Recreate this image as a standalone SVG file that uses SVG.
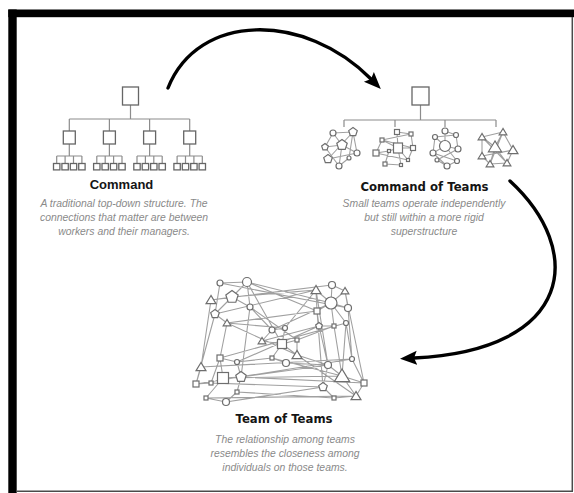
<svg xmlns="http://www.w3.org/2000/svg" xmlns:xlink="http://www.w3.org/1999/xlink" width="574" height="493" viewBox="0 0 574 493">
  <style>
    .box { fill: #fff; stroke: #666; stroke-width: 1.3; }
    .tree { fill: none; stroke: #8c8c8c; stroke-width: 1.2; }
    .edge { stroke: #a0a0a0; stroke-width: 1.1; fill: none; }
    .nd { fill: #fff; stroke: #6e6e6e; stroke-width: 1.2; }
    .title { font-family: "Liberation Sans", Arial, sans-serif; font-weight: bold; fill: #151515; text-anchor: middle; }
    .title2 { font-family: "DejaVu Sans", "Liberation Sans", sans-serif; font-weight: bold; fill: #151515; text-anchor: middle; font-size: 11.7px; }
    .sub { font-family: "Liberation Sans", Arial, sans-serif; font-style: italic; font-size: 10.4px; fill: #8a8a8a; text-anchor: middle; }
    .arrow { fill: none; stroke: #000; stroke-width: 3.4; stroke-linecap: round; }
  </style>
  <defs>
    <marker id="head" markerUnits="userSpaceOnUse" markerWidth="18" markerHeight="16" refX="3" refY="8" orient="auto">
      <path d="M0,1 L17,8 L0,15 L3,8 z" fill="#000"/>
    </marker>
    <polygon id="ps" class="nd" points="0,-3.5 3.33,-1.08 2.06,2.83 -2.06,2.83 -3.33,-1.08"/>
    <polygon id="pm" class="nd" points="0,-4.5 4.28,-1.39 2.65,3.64 -2.65,3.64 -4.28,-1.39"/>
    <polygon id="pxl" class="nd" points="0,-5.5 5.23,-1.7 3.23,4.45 -3.23,4.45 -5.23,-1.7"/>
    <polygon id="pl" class="nd" points="0,-6.5 6.18,-2.01 3.82,5.26 -3.82,5.26 -6.18,-2.01"/>
    <polygon id="ts" class="nd" points="0,-3.5 -3.85,2.8 3.85,2.8"/>
    <polygon id="tm" class="nd" points="0,-4.5 -4.95,3.6 4.95,3.6"/>
    <polygon id="txl" class="nd" points="0,-6 -6.6,4.8 6.6,4.8"/>
    <polygon id="tl" class="nd" points="0,-7 -7.7,5.6 7.7,5.6"/>
  </defs>

  <!-- page and frame -->
  <rect x="0" y="0" width="574" height="493" fill="#fff"/>
  <rect x="8.3" y="9.5" width="566" height="7.7" fill="#000"/>
  <rect x="8.3" y="9.5" width="8.4" height="484" fill="#000"/>
  <line x1="572.3" y1="17" x2="572.3" y2="491.5" stroke="#4a4a4a" stroke-width="1.5"/>
  <line x1="16" y1="491.2" x2="573" y2="491.2" stroke="#4a4a4a" stroke-width="1.5"/>

  <!-- Command: strict hierarchy -->
  <g id="command">
    <path class="tree" d="M130.5,105 V119 M69.3,119 H189.7 M69.3,119 V131 M109.4,119 V131 M149.6,119 V131 M189.7,119 V131"/>
    <path class="tree" d="M69.3,144 V156 M56.7,156 H81.9 M56.7,156 V163 M65.1,156 V163 M73.5,156 V163 M81.9,156 V163"/>
    <path class="tree" d="M109.4,144 V156 M96.8,156 H122 M96.8,156 V163 M105.2,156 V163 M113.6,156 V163 M122,156 V163"/>
    <path class="tree" d="M149.6,144 V156 M137,156 H162.2 M137,156 V163 M145.4,156 V163 M153.8,156 V163 M162.2,156 V163"/>
    <path class="tree" d="M189.7,144 V156 M177.1,156 H202.3 M177.1,156 V163 M185.5,156 V163 M193.9,156 V163 M202.3,156 V163"/>
    <rect class="box" x="122.5" y="87" width="16" height="18"/>
    <rect class="box" x="63.3" y="131" width="12" height="13"/>
    <rect class="box" x="103.4" y="131" width="12" height="13"/>
    <rect class="box" x="143.6" y="131" width="12" height="13"/>
    <rect class="box" x="183.7" y="131" width="12" height="13"/>
    <g class="box">
      <rect x="53.5" y="163.5" width="6.4" height="6.4"/><rect x="61.9" y="163.5" width="6.4" height="6.4"/><rect x="70.3" y="163.5" width="6.4" height="6.4"/><rect x="78.7" y="163.5" width="6.4" height="6.4"/>
      <rect x="93.6" y="163.5" width="6.4" height="6.4"/><rect x="102" y="163.5" width="6.4" height="6.4"/><rect x="110.4" y="163.5" width="6.4" height="6.4"/><rect x="118.8" y="163.5" width="6.4" height="6.4"/>
      <rect x="133.8" y="163.5" width="6.4" height="6.4"/><rect x="142.2" y="163.5" width="6.4" height="6.4"/><rect x="150.6" y="163.5" width="6.4" height="6.4"/><rect x="159" y="163.5" width="6.4" height="6.4"/>
      <rect x="173.9" y="163.5" width="6.4" height="6.4"/><rect x="182.3" y="163.5" width="6.4" height="6.4"/><rect x="190.7" y="163.5" width="6.4" height="6.4"/><rect x="199.1" y="163.5" width="6.4" height="6.4"/>
    </g>
    <text class="title" x="121.5" y="189" font-size="13">Command</text>
    <text class="sub" x="124" y="207">A traditional top-down structure. The</text>
    <text class="sub" x="124" y="221">connections that matter are between</text>
    <text class="sub" x="124" y="235">workers and their managers.</text>
  </g>

  <!-- Command of Teams: teams under a hierarchy -->
  <g id="command-of-teams">
    <path class="tree" d="M420.5,105 V120 M344,120 H496 M344,120 V127 M395,120 V127 M445,120 V127 M496,120 V127"/>
    <rect class="box" x="412" y="87" width="17" height="18"/>

    <g id="team-pentagons">
      <path class="edge" d="M333,133 L353,132 M333,133 L325,147 M353,132 L357,153 M325,147 L342,145 M328,159 L357,153 M339,166 L349,158 M342,145 L339,166 M333,133 L342,145 M353,132 L328,159 M325,147 L339,166 M357,153 L342,145 M349,158 L353,132"/>
      <use href="#pxl" x="342" y="145"/>
      <circle class="nd" cx="333" cy="133" r="3"/>
      <use href="#pm" x="353" y="132"/>
      <use href="#ps" x="325" y="147"/>
      <use href="#pm" x="328" y="159"/>
      <circle class="nd" cx="357" cy="153" r="3"/>
      <circle class="nd" cx="339" cy="166" r="3"/>
      <circle class="nd" cx="349" cy="158" r="2"/>
    </g>

    <g id="team-squares">
      <path class="edge" d="M397,132 L398,148 M397,132 L411,134 M382,140 L411,134 M382,140 L376,153 M382,140 L398,148 M376,153 L389,151 M389,151 L398,148 M398,148 L413,148 M413,148 L411,134 M398,148 L408,160 M385,164 L389,151 M385,164 L401,165 M401,165 L398,148 M408,160 L413,148 M376,153 L408,160 M382,140 L413,148"/>
      <g class="nd">
        <rect x="393.5" y="143" width="9" height="10"/>
        <rect x="394.5" y="129.5" width="5" height="5"/>
        <rect x="409" y="132" width="4" height="4"/>
        <rect x="380" y="138" width="4" height="4"/>
        <rect x="373" y="150" width="6" height="6"/>
        <rect x="387.5" y="149.5" width="3" height="3"/>
        <rect x="410.5" y="145.5" width="5" height="5"/>
        <rect x="406.5" y="158.5" width="3" height="3"/>
        <rect x="383" y="162" width="4" height="4"/>
        <rect x="399.5" y="163.5" width="3" height="3"/>
      </g>
    </g>

    <g id="team-circles">
      <path class="edge" d="M445,131 L445,146 M445,131 L456,135 M435,137 L445,146 M435,137 L433,153 M456,135 L458,149 M433,153 L445,146 M458,149 L445,146 M457,161 L445,146 M447,166 L437,160 M447,166 L457,161 M433,153 L447,166 M437,160 L458,149 M435,137 L456,135 M433,153 L457,161"/>
      <g class="nd">
        <circle cx="445" cy="146" r="5.5"/>
        <circle cx="445" cy="131" r="3"/>
        <circle cx="456" cy="135" r="2.5"/>
        <circle cx="435" cy="137" r="2.5"/>
        <circle cx="433" cy="153" r="3"/>
        <circle cx="458" cy="149" r="3"/>
        <circle cx="457" cy="161" r="2.5"/>
        <circle cx="447" cy="166" r="3"/>
        <circle cx="437" cy="160" r="2"/>
      </g>
    </g>

    <g id="team-triangles">
      <path class="edge" d="M482,137 L503,132 M482,137 L495,147 M503,132 L513,150 M503,132 L495,147 M482,137 L482,156 M482,156 L490,164 M490,164 L507,163 M507,163 L513,150 M495,147 L507,163 M482,156 L513,150 M482,137 L507,163 M503,132 L490,164 M495,147 L490,164"/>
      <use href="#txl" x="495" y="147"/>
      <use href="#ts" x="482" y="137"/>
      <use href="#ts" x="503" y="132"/>
      <use href="#tm" x="513" y="150"/>
      <use href="#ts" x="482" y="156"/>
      <use href="#ts" x="490" y="164"/>
      <use href="#ts" x="507" y="163"/>
    </g>

    <text class="title2" x="424.5" y="191">Command of Teams</text>
    <text class="sub" x="424" y="207">Small teams operate independently</text>
    <text class="sub" x="424" y="221">but still within a more rigid</text>
    <text class="sub" x="424" y="235">superstructure</text>
  </g>

  <!-- Team of Teams: a dense network across teams -->
  <g id="team-of-teams">
    <path class="edge" d="
      M220,283 L247,282 M220,283 L215,314 M211,300 L232,297 M232,297 L247,282 M232,297 L250,307 M232,297 L215,314
      M247,282 L250,307 M215,314 L227,323 M211,300 L201,367 M215,314 L196,384 M227,323 L220,358 M250,307 L272,330
      M250,307 L241,377 M272,330 L285,328 M272,330 L262,341 M262,341 L282,344 M282,344 L297,340 M282,344 L297,355
      M285,328 L282,344 M282,344 L272,358 M297,340 L297,355 M272,358 L286,363 M220,358 L223,378 M220,358 L211,383
      M223,378 L241,377 M223,378 L211,383 M201,367 L196,384 M196,384 L211,383 M241,377 L237,362 M220,358 L237,362
      M223,378 L206,398 M206,398 L226,402 M241,377 L237,392 M237,392 L226,402 M237,362 L272,358 M227,323 L285,328
      M247,282 L331,303 M247,282 L317,311 M232,297 L316,290 M227,323 L317,311 M215,314 L316,290 M285,328 L316,290
      M272,330 L331,303 M262,341 L319,326 M297,340 L334,326 M297,355 L328,365 M286,363 L328,365 M223,378 L342,376
      M241,377 L328,365 M241,377 L364,383 M211,383 L323,387 M196,384 L352,359 M206,398 L356,396 M237,392 L334,398
      M237,362 L319,326 M220,358 L346,323 M226,402 L323,387 M272,358 L342,376 M297,355 L356,396 M247,282 L282,344
      M220,283 L348,308 M211,300 L332,285 M201,367 L352,359 M227,323 L297,355 M250,307 L297,340
      M331,303 L316,290 M331,303 L332,285 M331,303 L345,291 M331,303 L348,308 M331,303 L317,311 M331,303 L334,326
      M331,303 L346,323 M332,285 L345,291 M316,290 L317,311 M317,311 L319,326 M319,326 L334,326 M345,291 L348,308
      M345,291 L364,383 M348,308 L352,359 M319,326 L328,365 M334,326 L342,376 M346,323 L342,376 M328,365 L342,376
      M328,365 L323,387 M352,359 L364,383 M342,376 L364,383 M342,376 L356,396 M323,387 L334,398 M334,398 L356,396
      M364,383 L356,396 M317,311 L323,387 M316,290 L328,365 M346,323 L352,359"/>
    <g class="nd">
      <circle cx="220" cy="283" r="3"/>
      <circle cx="247" cy="282" r="4.5"/>
      <circle cx="250" cy="307" r="3"/>
      <circle cx="272" cy="330" r="3"/>
      <circle cx="285" cy="328" r="2.5"/>
      <circle cx="286" cy="363" r="3.5"/>
      <circle cx="237" cy="362" r="2.5"/>
      <circle cx="226" cy="402" r="3.5"/>
      <rect x="277.5" y="339.5" width="9" height="9"/>
      <rect x="295" y="338" width="4" height="4"/>
      <rect x="270" y="356" width="4" height="4"/>
      <rect x="217" y="355" width="6" height="6"/>
      <rect x="217.5" y="372.5" width="11" height="11"/>
      <rect x="209" y="381" width="4" height="4"/>
      <rect x="193" y="381" width="6" height="6"/>
      <rect x="235" y="390" width="4" height="4"/>
      <rect x="204" y="396" width="4" height="4"/>
      <circle cx="332" cy="285" r="3.5"/>
      <circle cx="331" cy="303" r="6"/>
      <circle cx="348" cy="308" r="3.5"/>
      <circle cx="346" cy="323" r="2.5"/>
      <circle cx="328" cy="365" r="3.5"/>
      <circle cx="352" cy="359" r="2.5"/>
      <rect x="314" y="308" width="6" height="6"/>
      <rect x="332" y="324" width="4" height="4"/>
      <rect x="361" y="380" width="6" height="6"/>
      <rect x="332" y="396" width="4" height="4"/>
    </g>
    <use href="#tm" x="211" y="300"/>
    <use href="#pl" x="232" y="297"/>
    <use href="#pm" x="215" y="314"/>
    <use href="#ts" x="227" y="323"/>
    <use href="#ts" x="262" y="341"/>
    <use href="#tm" x="297" y="355"/>
    <use href="#tm" x="201" y="367"/>
    <use href="#pxl" x="241" y="377"/>
    <use href="#tm" x="316" y="290"/>
    <use href="#ts" x="345" y="291"/>
    <use href="#ps" x="319" y="326"/>
    <use href="#tl" x="342" y="376"/>
    <use href="#pm" x="323" y="387"/>
    <use href="#tm" x="356" y="396"/>

    <text class="title2" x="284" y="423">Team of Teams</text>
    <text class="sub" x="285" y="443">The relationship among teams</text>
    <text class="sub" x="285" y="457">resembles the closeness among</text>
    <text class="sub" x="285" y="471">individuals on those teams.</text>
  </g>

  <!-- transitions between the three structures -->
  <g id="connectors">
    <path class="arrow" d="M168,88 C198,12 305,12 371,79" marker-end="url(#head)"/>
    <path class="arrow" d="M510,181 C585,250 575,350 414,358" marker-end="url(#head)"/>
  </g>
</svg>
